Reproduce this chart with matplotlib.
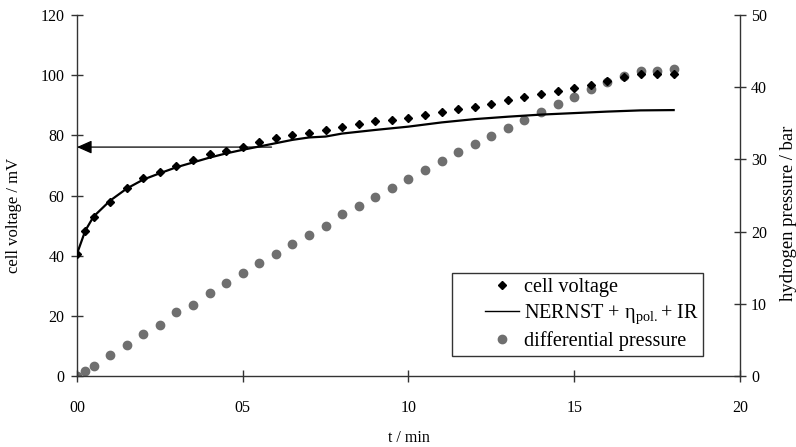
import numpy as np
import matplotlib.pyplot as plt
from matplotlib.lines import Line2D
from matplotlib.legend_handler import HandlerLine2D

plt.rcParams['font.family'] = ['Liberation Serif', 'DejaVu Serif']
plt.rcParams['mathtext.fontset'] = 'custom'
plt.rcParams['mathtext.rm'] = 'Liberation Serif'

# measured points
t_meas = [0, 0.25, 0.5, 1, 1.5, 2, 2.5, 3, 3.5, 4, 4.5, 5, 5.5, 6, 6.5, 7, 7.5,
          8, 8.5, 9, 9.5, 10, 10.5, 11, 11.5, 12, 12.5, 13, 13.5, 14, 14.5,
          15, 15.5, 16, 16.5, 17, 17.5, 18]
cell_voltage = [40.6, 48.3, 53.0, 57.7, 62.6, 65.7, 67.7, 69.9, 71.7, 73.9, 74.9,
                76.1, 77.7, 79.0, 80.0, 80.7, 81.9, 82.8, 83.8, 84.9, 85.1, 85.7,
                86.7, 87.7, 88.8, 89.5, 90.5, 91.8, 92.8, 93.8, 94.6, 95.6, 96.6,
                98.2, 99.5, 100.4, 100.4, 100.4]
pressure = [0, 0.7, 1.4, 2.95, 4.25, 5.8, 7.1, 8.8, 9.9, 11.45, 12.9, 14.3, 15.6,
            16.9, 18.3, 19.6, 20.8, 22.4, 23.5, 24.8, 26.1, 27.3, 28.5, 29.8,
            31.0, 32.2, 33.2, 34.3, 35.5, 36.5, 37.7, 38.7, 39.8, 40.7, 41.6,
            42.3, 42.3, 42.5]

# model curve
t_model = [0, 0.25, 0.5, 1, 1.5, 2, 2.5, 3, 3.5, 4, 4.5, 5, 5.5, 6, 6.5, 7, 7.5,
           8, 8.5, 9, 10, 11, 12, 13, 14, 15, 16, 17, 18]
nernst = [40.6, 48.3, 53.0, 58.3, 62.3, 65.3, 67.4, 69.4, 71.0, 72.6, 74.0,
          75.2, 76.3, 77.4, 78.5, 79.3, 79.6, 80.6, 81.2, 81.8, 82.9, 84.3,
          85.4, 86.2, 86.9, 87.4, 87.9, 88.3, 88.4]

arrow_from = (5.87, 76.1)

fig = plt.figure(figsize=(7.96, 4.47), dpi=100)
ax = fig.add_axes([0.0967, 0.1588, 0.8329, 0.8076])
ax2 = ax.twinx()

ax.set_zorder(2)
ax.patch.set_visible(False)

ax.plot(t_model, nernst, color='black', lw=1.6, zorder=3)
ax.plot(t_meas, cell_voltage, 'D', color='black', ms=4.5, zorder=4)
ax2.plot(t_meas, pressure, 'o', color='#6f6f6f', ms=6, mec='#6f6f6f')

ax.annotate('', xy=(0, arrow_from[1]), xytext=arrow_from,
            arrowprops=dict(arrowstyle='-|>,head_length=0.9,head_width=0.4',
                            color='black', lw=0.9, shrinkA=0, shrinkB=0))

ax.set_xlim(0, 20)
ax.set_ylim(0, 120)
ax2.set_ylim(0, 50)
ax.set_xticks([0, 5, 10, 15, 20])
ax.set_xticklabels(['00', '05', '10', '15', '20'])
ax.set_yticks(np.arange(0, 121, 20))
ax2.set_yticks(np.arange(0, 51, 10))

for a in (ax, ax2):
    a.spines['top'].set_visible(False)
    for s in a.spines.values():
        s.set_color('#333333')
        s.set_linewidth(1.0)
ax.spines['right'].set_visible(False)
ax2.spines['left'].set_visible(False)
ax2.spines['bottom'].set_visible(False)

ax.tick_params(axis='x', direction='inout', length=8, width=1, pad=13,
               labelsize=11.5, colors='#333333', labelcolor='black')
ax.tick_params(axis='y', direction='inout', length=8, width=1, pad=5,
               labelsize=11.5, colors='#333333', labelcolor='black')
ax2.tick_params(axis='y', direction='inout', length=8, width=1, pad=4,
                labelsize=11.5, colors='#333333', labelcolor='black')

ax.set_xlabel('t / min', fontsize=11.5, labelpad=10)
ax.set_ylabel('cell voltage / mV', fontsize=12, labelpad=6)
ax.yaxis.set_label_coords(-0.083, 0.446)
ax2.set_ylabel('hydrogen pressure / bar', fontsize=13.4, labelpad=10)
ax2.yaxis.set_label_coords(1.061, 0.45)

h1 = Line2D([], [], ls='', marker='D', color='black', ms=4.5)
h2 = Line2D([], [], color='black', lw=1.0)
h3 = Line2D([], [], ls='', marker='o', color='#6f6f6f', ms=6)
leg = ax.legend([h1, h2, h3],
                ['cell voltage', 'NERNST + η$_{\\mathrm{pol.}}$+ IR',
                 'differential pressure'],
                handler_map={Line2D: HandlerLine2D(xpad=1.4)},
                loc='upper left', bbox_to_anchor=(0.565, 0.286),
                borderaxespad=0, fontsize=14.6, frameon=True, fancybox=False,
                edgecolor='black', handlelength=3.1, handletextpad=0.2,
                labelspacing=0.25, borderpad=0.25)
leg.get_frame().set_linewidth(1.0)

fig.savefig('out.png', dpi=100)
